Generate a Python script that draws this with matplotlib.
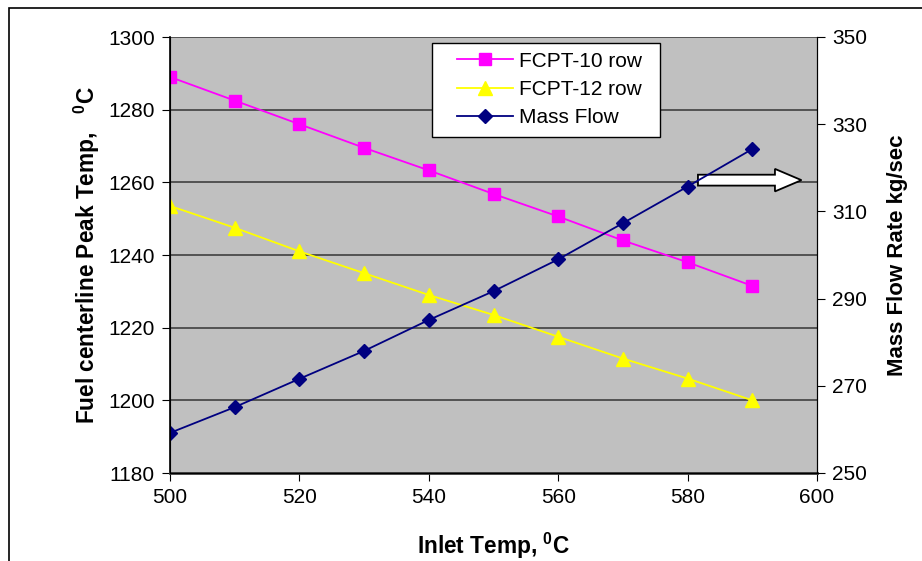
import matplotlib
matplotlib.use("Agg")
import matplotlib.pyplot as plt
from matplotlib.patches import Rectangle, FancyArrow

plt.rcParams['font.family'] = ['Liberation Sans', 'DejaVu Sans']
plt.rcParams['mathtext.fontset'] = 'custom'
plt.rcParams['mathtext.rm'] = 'Liberation Sans'
plt.rcParams['mathtext.bf'] = 'Liberation Sans:bold'

inlet_temp = [500, 510, 520, 530, 540, 550, 560, 570, 580, 590]
fcpt10 = [1289, 1282.5, 1276, 1269.5, 1263.3, 1256.8, 1250.6, 1244, 1238, 1231.5]
fcpt12 = [1253.5, 1247.5, 1241, 1235, 1229, 1223.5, 1217.5, 1211.5, 1206, 1200]
mass_flow = [259.2, 265.1, 271.6, 278, 285.1, 291.7, 299, 307.3, 315.7, 324.3]

fig = plt.figure(figsize=(9.22, 5.61), dpi=100)
ax = fig.add_axes([170/922, 1-473/561, 647/922, 436/561])
ax2 = ax.twinx()

# outer chart frame
fig.patches.append(Rectangle((9/922, -0.1), 1.0, 1-8/561+0.1, transform=fig.transFigure,
                             fill=False, ec='black', lw=1.2))

ax.set_facecolor('#c0c0c0')
ax.set_xlim(500, 600)
ax.set_ylim(1180, 1300)
ax2.set_ylim(250, 350)
ax.set_xticks(range(500, 601, 20))
ax.set_yticks(range(1180, 1301, 20))
ax2.set_yticks(range(250, 351, 20))
ax.grid(axis='y', color='#404040', lw=1.2)
ax.set_axisbelow(True)

for a in (ax, ax2):
    for s in a.spines.values():
        s.set_color('black')
    a.spines['top'].set_visible(False)
ax.spines['left'].set_linewidth(1.2)
ax.spines['bottom'].set_color('#404040')
ax.spines['bottom'].set_linewidth(2)
ax.tick_params(axis='both', direction='out', length=6, labelsize=15, pad=5)
ax2.tick_params(axis='y', direction='out', length=6, labelsize=15, pad=5)

l1, = ax.plot(inlet_temp, fcpt10, color='#ff00ff', marker='s', ms=8.5, lw=1.3, label='FCPT-10 row')
l2, = ax.plot(inlet_temp, fcpt12, color='#ffff00', marker='^', ms=9.5, lw=1.3, label='FCPT-12 row')
l3, = ax2.plot(inlet_temp, mass_flow, color='#000080', marker='D', ms=7, lw=1.3, label='Mass Flow')

# legend box drawn by hand, legend entries placed inside it
ax2.add_patch(Rectangle((262/647, 336/436), 228/647, 94/436, transform=ax2.transAxes,
                        fc='white', ec='black', lw=1.0, zorder=8))
leg = ax2.legend(handles=[l1, l2, l3], loc='upper left', bbox_to_anchor=(272/647, 1.0),
                 fontsize=15, frameon=False, borderpad=0.2, labelspacing=0.45,
                 handlelength=2.7, handletextpad=0.3)
leg.set_zorder(9)

arrow = FancyArrow(581.6, 1260.6, 11.9, 0, width=3.0, head_width=6.2, head_length=4.1,
                   length_includes_head=False, fc='white', ec='black', lw=1.3, zorder=5)
ax.add_patch(arrow)

ax.set_xlabel(r'Inlet Temp, $^\mathbf{0}$C', fontsize=16.3, fontweight='bold', labelpad=17)
ax.set_ylabel(r'Fuel centerline Peak Temp,   $^\mathbf{0}$C', fontsize=16.3, fontweight='bold', labelpad=4)
ax2.set_ylabel('Mass Flow Rate kg/sec', fontsize=16, fontweight='bold', labelpad=14)

fig.savefig('out.png', dpi=100)
